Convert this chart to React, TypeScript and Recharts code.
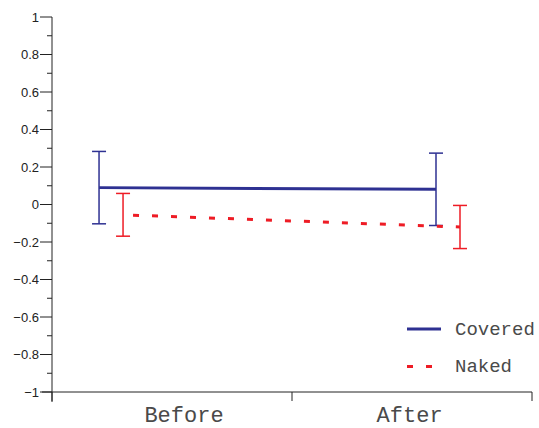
import React from "react";
import { ComposedChart, Line, XAxis, YAxis, ErrorBar, Legend } from "recharts";

// categories and where their labels sit on the x scale
const categories = ["Before", "After"];
const categoryPos = [0.55, 1.49];
const xTicks = [0, 1, 2];

// Covered series
const coveredX = [0.196, 1.6];
const coveredY = [0.09, 0.081];
const coveredErr = [0.193, 0.193];

// Naked series
const nakedX = [0.296, 1.7];
const nakedY = [-0.055, -0.12];
const nakedErr = [0.114, 0.115];

const yTicks = [
  -1, -0.9, -0.8, -0.7, -0.6, -0.5, -0.4, -0.3, -0.2, -0.1, 0, 0.1, 0.2, 0.3,
  0.4, 0.5, 0.6, 0.7, 0.8, 0.9, 1,
];

const NAVY = "#2e3192";
const RED = "#ee1c25";
const AXIS = "#222";
const LABEL = "#4a4a4a";
const MONO = "'Liberation Mono', 'Courier New', monospace";
const SANS = "'Liberation Sans', Arial, sans-serif";

const covered = coveredX.map((x, i) => ({ x, y: coveredY[i], err: coveredErr[i] }));
const naked = nakedX.map((x, i) => ({ x, y: nakedY[i], err: nakedErr[i] }));

const fmtY = (v: number) => {
  if (v === 0) return "0";
  const s = Math.abs(v).toString();
  return v < 0 ? "\u2212" + s : s;
};

const YTick = (props: any) => {
  const { x, y, payload } = props;
  const v = payload.value;
  const major = Math.round(v * 10) % 2 === 0;
  return (
    <g>
      <line x1={major ? x : x + 7} x2={x + 12} y1={y} y2={y} stroke={AXIS} strokeWidth={1} />
      {v === -1 && <line x1={x + 12} x2={x + 12} y1={y} y2={y + 10} stroke={AXIS} />}
      {major && (
        <text x={x - 1} y={y} dy="0.35em" textAnchor="end" fontSize={13} fontFamily={SANS} fill={AXIS}>
          {fmtY(v)}
        </text>
      )}
    </g>
  );
};

const XTick = (props: any) => {
  const { x, y, payload } = props;
  const idx = categoryPos.indexOf(payload.value);
  if (idx >= 0) {
    return (
      <text x={x} y={y + 21} textAnchor="middle" fontSize={22} fontFamily={MONO} fill={LABEL}>
        {categories[idx]}
      </text>
    );
  }
  return (
    <g>
      <line x1={x} x2={x} y1={y - 9} y2={y} stroke={AXIS} />
      {payload.value === 0 && <line x1={x - 10} x2={x} y1={y - 9} y2={y - 9} stroke={AXIS} />}
    </g>
  );
};

const LegendBox = () => (
  <svg width={139} height={70}>
    <line x1={7} x2={41} y1={14} y2={14} stroke={NAVY} strokeWidth={3} />
    <text x={55} y={20} fontSize={19} fontFamily={MONO} fill={LABEL}>
      Covered
    </text>
    <line x1={7} x2={34} y1={51.5} y2={51.5} stroke={RED} strokeWidth={3} strokeDasharray="6 13" />
    <text x={55} y={57} fontSize={19} fontFamily={MONO} fill={LABEL}>
      Naked
    </text>
  </svg>
);

export default function App() {
  return (
    <div style={{ position: "absolute", left: 0, top: 0 }}>
      <ComposedChart width={539} height={428} margin={{ top: 17, right: 7, left: 0, bottom: 0 }}>
        <XAxis
          type="number"
          dataKey="x"
          domain={[0, 2]}
          ticks={[...xTicks, ...categoryPos].sort((a, b) => a - b)}
          interval={0}
          height={36}
          tickSize={9}
          tickMargin={0}
          tickLine={false}
          axisLine={{ stroke: AXIS }}
          tick={<XTick />}
        />
        <YAxis
          type="number"
          domain={[-1, 1]}
          ticks={yTicks}
          interval={0}
          width={52}
          tickSize={12}
          tickMargin={0}
          tickLine={false}
          axisLine={{ stroke: AXIS }}
          tick={<YTick />}
        />
        <Legend
          layout="vertical"
          align="center"
          verticalAlign="middle"
          content={<LegendBox />}
          wrapperStyle={{ position: "absolute", left: 400, top: 315, width: 139, height: 70 }}
        />
        <Line
          data={covered}
          dataKey="y"
          stroke={NAVY}
          strokeWidth={3}
          dot={false}
          activeDot={false}
          isAnimationActive={false}
        >
          <ErrorBar dataKey="err" direction="y" width={7} stroke={NAVY} strokeWidth={1.5} />
        </Line>
        <Line
          data={naked}
          dataKey="y"
          stroke={RED}
          strokeWidth={3}
          strokeDasharray="0 10 6 3"
          dot={false}
          activeDot={false}
          isAnimationActive={false}
        >
          <ErrorBar dataKey="err" direction="y" width={7} stroke={RED} strokeWidth={1.5} />
        </Line>
      </ComposedChart>
    </div>
  );
}
